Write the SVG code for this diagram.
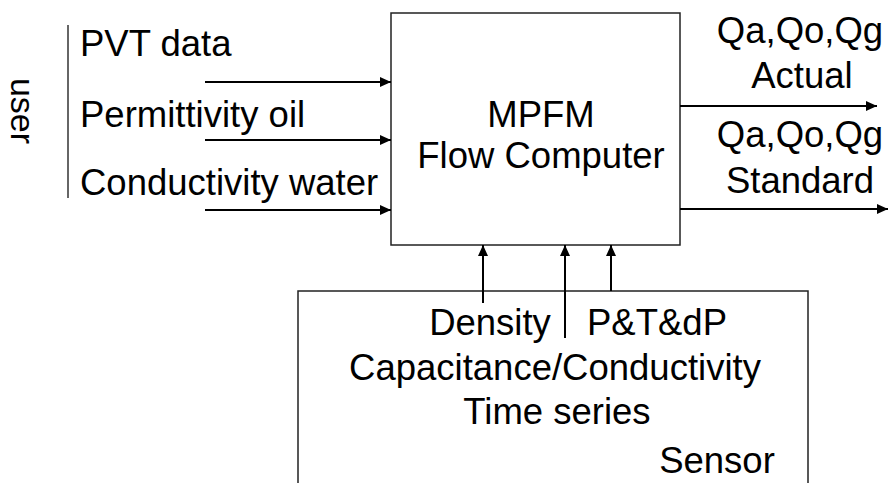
<svg xmlns="http://www.w3.org/2000/svg" width="889" height="483" viewBox="0 0 889 483">
<style>
text{font-family:"Liberation Sans",Arial,sans-serif;font-size:36.5px;fill:#000}
.m{text-anchor:middle}
.box{fill:#fff;stroke:#222;stroke-width:1.5}
.ln{stroke:#000;stroke-width:2;fill:none}
.c{stroke:#000;stroke-width:2;fill:none;marker-end:url(#ah)}
</style>
<defs>
<marker id="ah" markerUnits="userSpaceOnUse" markerWidth="12" markerHeight="10" refX="11" refY="5" orient="auto">
<path d="M0,0 L11,5 L0,10 z" fill="#000"/>
</marker>
</defs>
<g id="user">
<line class="ln" x1="68" y1="25" x2="68" y2="198" style="stroke:#333;stroke-width:1.5"/>
<text class="m" style="font-size:34px" transform="translate(11,111) rotate(90)">user</text>
<text x="80" y="56">PVT data</text>
<text x="80" y="127">Permittivity oil</text>
<text x="80" y="195">Conductivity water</text>
</g>
<g id="mpfm">
<rect class="box" x="391" y="13" width="289" height="232"/>
<text class="m" x="541" y="127">MPFM</text>
<text class="m" x="541" y="168">Flow Computer</text>
</g>
<g id="outputs">
<text class="m" x="800" y="43">Qa,Qo,Qg</text>
<text class="m" x="802" y="88">Actual</text>
<text class="m" x="800" y="147">Qa,Qo,Qg</text>
<text class="m" x="800" y="193">Standard</text>
</g>
<g id="sensor">
<path class="box" d="M298,483 L298,291 L808,291 L808,483"/>
<text class="m" x="490" y="335">Density</text>
<text class="m" x="657" y="335">P&amp;T&amp;dP</text>
<text class="m" x="555" y="380">Capacitance/Conductivity</text>
<text class="m" x="557" y="424">Time series</text>
<text class="m" x="717" y="473">Sensor</text>
</g>
<g id="connectors">
<line class="c" x1="205" y1="82" x2="391" y2="82"/>
<line class="c" x1="205" y1="140" x2="391" y2="140"/>
<line class="c" x1="205" y1="210" x2="391" y2="210"/>
<line class="c" x1="680" y1="106" x2="877" y2="106"/>
<line class="c" x1="680" y1="209" x2="888" y2="209"/>
<line class="c" x1="483" y1="303" x2="483" y2="245"/>
<line class="c" x1="565" y1="338" x2="565" y2="245"/>
<line class="c" x1="611" y1="291" x2="611" y2="245"/>
</g>
</svg>
